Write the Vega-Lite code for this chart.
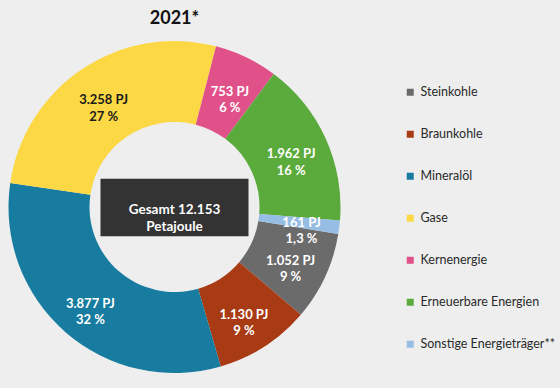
{
  "$schema": "https://vega.github.io/schema/vega-lite/v6.json",
  "width": 349,
  "height": 332,
  "padding": {"left": 0, "top": 10, "right": 30, "bottom": 30},
  "background": "#eeeeee",
  "title": {"text": "2021*", "fontSize": 18, "font": "Lato", "fontWeight": "bold", "color": "#111111", "offset": 13, "anchor": "middle"},
  "config": {"view": {"stroke": null}, "font": "Lato"},
  "datasets": {
    "energy": [
      {"idx": 1, "category": "Steinkohle", "pj": 1052, "label": "1.052 PJ\n9 %"},
      {"idx": 2, "category": "Braunkohle", "pj": 1130, "label": "1.130 PJ\n9 %"},
      {"idx": 3, "category": "Mineralöl", "pj": 3877, "label": "3.877 PJ\n32 %"},
      {"idx": 4, "category": "Gase", "pj": 3258, "label": "3.258 PJ\n27 %"},
      {"idx": 5, "category": "Kernenergie", "pj": 753, "label": "753 PJ\n6 %"},
      {"idx": 6, "category": "Erneuerbare Energien", "pj": 1962, "label": "1.962 PJ\n16 %"},
      {"idx": 7, "category": "Sonstige Energieträger**", "pj": 161, "label": "161 PJ\n1,3 %"}
    ],
    "total": [
      {"text": "Gesamt 12.153\nPetajoule"}
    ]
  },
  "layer": [
    {
      "data": {"name": "energy"},
      "mark": {"type": "arc", "innerRadius": 85, "outerRadius": 166},
      "encoding": {
        "theta": {"field": "pj", "type": "quantitative", "stack": true, "scale": {"range": [1.7349, 8.0181]}},
        "order": {"field": "idx", "type": "quantitative", "sort": "ascending"},
        "color": {
          "field": "category",
          "type": "nominal",
          "scale": {
            "domain": ["Steinkohle", "Braunkohle", "Mineralöl", "Gase", "Kernenergie", "Erneuerbare Energien", "Sonstige Energieträger**"],
            "range": ["#6b6b6b", "#a83a14", "#177ca0", "#fcd844", "#e0518a", "#5bab3c", "#96bde3"]
          },
          "legend": {
            "orient": "none",
            "legendX": 404,
            "legendY": 45,
            "title": null,
            "symbolType": "square",
            "symbolSize": 49,
            "symbolStrokeWidth": 0,
            "labelFontSize": 12.5,
            "labelFont": "Lato",
            "labelColor": "#2a2a2a",
            "labelOffset": 4,
            "rowPadding": 29,
            "padding": 0
          }
        }
      }
    },
    {
      "data": {"name": "energy"},
      "mark": {"type": "text", "radius": 128, "fontSize": 13, "fontWeight": "bold", "font": "Lato", "lineBreak": "\n", "lineHeight": 16.5, "align": "center", "baseline": "middle"},
      "encoding": {
        "theta": {"field": "pj", "type": "quantitative", "stack": true, "scale": {"range": [1.7349, 8.0181]}},
        "order": {"field": "idx", "type": "quantitative", "sort": "ascending"},
        "detail": {"field": "category", "type": "nominal"},
        "text": {"field": "label", "type": "nominal"},
        "color": {"condition": {"test": "datum.category === 'Gase'", "value": "#1a1a1a"}, "value": "#ffffff"}
      }
    },
    {
      "data": {"name": "total"},
      "mark": {"type": "point", "shape": "M-1,-0.39H1V0.39H-1Z", "size": 21904, "filled": true, "fill": "#333333", "strokeWidth": 0, "opacity": 1, "yOffset": 0.5},
      "encoding": {}
    },
    {
      "data": {"name": "total"},
      "mark": {"type": "text", "fontSize": 13.5, "fontWeight": "bold", "font": "Lato", "color": "#ffffff", "lineBreak": "\n", "lineHeight": 17, "align": "center", "baseline": "middle", "dy": 2.5},
      "encoding": {"text": {"field": "text", "type": "nominal"}}
    }
  ]
}
